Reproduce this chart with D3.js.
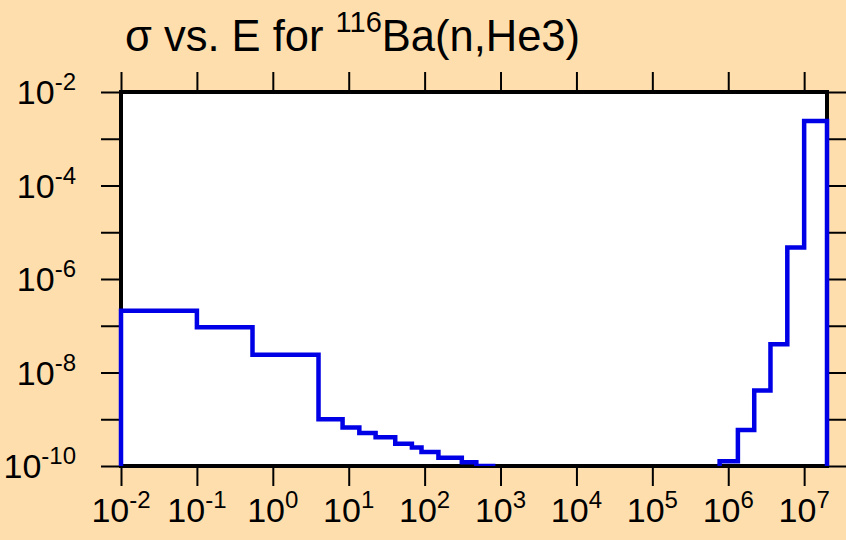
<!DOCTYPE html>
<html>
<head>
<meta charset="utf-8">
<script src="https://cdn.jsdelivr.net/npm/d3@7"></script>
<style>
  body { margin: 0; background: #FFDEAD; }
  svg { display: block; }
  text { font-family: "Liberation Sans", Arial, sans-serif; fill: #000; }
</style>
</head>
<body>
<svg width="846" height="540"></svg>
<script>
// bin edges (eV) and cross sections (b)
var edges = [1e-2, 0.1, 0.54, 4.0, 8.3, 13.8, 22.6, 41, 68, 91, 152, 309, 480, 800,
             7.7e5, 1.34e6, 2.2e6, 3.6e6, 6.0e6, 1.0e7, 2.0e7];
var sigma = [2.1e-7, 9.3e-8, 2.4e-8, 1.0e-9, 6.7e-10, 5.1e-10, 4.1e-10, 3.0e-10, 2.5e-10,
             2.0e-10, 1.5e-10, 1.2e-10, 1.0e-10, 1e-12,
             1.26e-10, 5.9e-10, 4.1e-9, 4.0e-8, 4.7e-6, 2.4e-3];
var xTicks = [1e-2, 1e-1, 1e0, 1e1, 1e2, 1e3, 1e4, 1e5, 1e6, 1e7];
var yTicks = [1e-10, 1e-9, 1e-8, 1e-7, 1e-6, 1e-5, 1e-4, 1e-3, 1e-2];
var yLabelTicks = [1e-10, 1e-8, 1e-6, 1e-4, 1e-2];

var svg = d3.select("svg");
var margin = {top: 92, right: 19, bottom: 74, left: 121};
var width = 846, height = 540;

var x = d3.scaleLog().domain([1e-2, 2e7]).range([margin.left, width - margin.right]);
var y = d3.scaleLog().domain([1e-10, 1e-2]).range([height - margin.bottom, margin.top]);

// plot area
svg.append("rect")
  .attr("x", x.range()[0]).attr("y", y.range()[1])
  .attr("width", x.range()[1] - x.range()[0])
  .attr("height", y.range()[0] - y.range()[1])
  .attr("fill", "white");

// ticks (all outward)
function styleAxis(g) {
  g.select(".domain").remove();
  g.selectAll(".tick line").attr("stroke", "#000").attr("stroke-width", 2);
}
svg.append("g").attr("transform", "translate(0," + y.range()[0] + ")")
  .call(d3.axisBottom(x).tickValues(xTicks).tickSize(20).tickFormat(""))
  .call(styleAxis);
svg.append("g").attr("transform", "translate(0," + y.range()[1] + ")")
  .call(d3.axisTop(x).tickValues(xTicks).tickSize(20).tickFormat(""))
  .call(styleAxis);
svg.append("g").attr("transform", "translate(" + x.range()[0] + ",0)")
  .call(d3.axisLeft(y).tickValues(yTicks).tickSize(20).tickFormat(""))
  .call(styleAxis);
svg.append("g").attr("transform", "translate(" + x.range()[1] + ",0)")
  .call(d3.axisRight(y).tickValues(yTicks).tickSize(20).tickFormat(""))
  .call(styleAxis);

// frame
svg.append("rect")
  .attr("x", x.range()[0]).attr("y", y.range()[1])
  .attr("width", x.range()[1] - x.range()[0])
  .attr("height", y.range()[0] - y.range()[1])
  .attr("fill", "none").attr("stroke", "#000").attr("stroke-width", 4);

// the step curve
svg.append("clipPath").attr("id", "clip")
  .append("rect")
  .attr("x", x.range()[0] - 4).attr("y", y.range()[1] - 4)
  .attr("width", x.range()[1] - x.range()[0] + 8)
  .attr("height", y.range()[0] - y.range()[1] + 4);

var pts = [[edges[0], 1e-12]];
sigma.forEach(function(s, i) {
  pts.push([edges[i], s]);
  pts.push([edges[i + 1], s]);
});
pts.push([edges[edges.length - 1], 1e-12]);

var line = d3.line()
  .x(function(d) { return x(d[0]); })
  .y(function(d) { return y(d[1]); });

svg.append("path")
  .datum(pts)
  .attr("clip-path", "url(#clip)")
  .attr("d", line)
  .attr("fill", "none")
  .attr("stroke", "#0000E6")
  .attr("stroke-width", 4.5)
  .attr("stroke-linejoin", "miter");

// tick labels with superscript exponents
xTicks.forEach(function(v) {
  var t = svg.append("text")
    .attr("x", x(v)).attr("y", 522)
    .attr("text-anchor", "middle")
    .style("font-size", "34px");
  t.append("tspan").text("10");
  t.append("tspan").attr("dy", -14).style("font-size", "24px")
    .text(Math.round(Math.log10(v)));
});
yLabelTicks.forEach(function(v) {
  var t = svg.append("text")
    .attr("x", 76).attr("y", y(v) + 12)
    .attr("text-anchor", "end")
    .style("font-size", "34px");
  t.append("tspan").text("10");
  t.append("tspan").attr("dy", -14).style("font-size", "24px")
    .text(Math.round(Math.log10(v)));
});

// title
var title = svg.append("text")
  .attr("x", 125).attr("y", 51)
  .style("font-size", "43.5px");
title.append("tspan").text("\u03c3 vs. E for ");
title.append("tspan").attr("dy", -19).style("font-size", "29px").text("116");
title.append("tspan").attr("dy", 19).text("Ba(n,He3)");
</script>
</body>
</html>
